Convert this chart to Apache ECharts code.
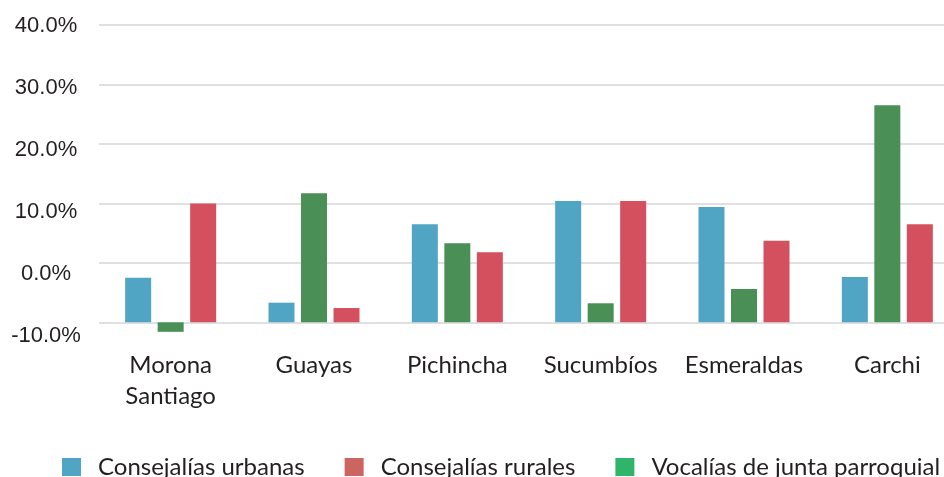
<!DOCTYPE html>
<html>
<head>
<meta charset="utf-8">
<script src="https://cdn.jsdelivr.net/npm/echarts@6/dist/echarts.min.js"></script>
<style>html,body{margin:0;padding:0;background:#fff}#c{width:944px;height:477px}</style>
</head>
<body>
<div id="c"></div>
<script>
// Data (percent)
var categories = ['Morona\nSantiago', 'Guayas', 'Pichincha', 'Sucumbíos', 'Esmeraldas', 'Carchi'];
var urbanas   = [-2.5, -6.7, 6.5, 10.4, 9.4, -2.4];
var vocalias  = [-11.6, 11.7, 3.3, -6.8, -4.4, 26.5];
var rurales   = [10.0, -7.6, 1.8, 10.4, 3.7, 6.5];
var yTicks = [-10, 0, 10, 20, 30, 40];
var seriesNames = ['Consejalías urbanas', 'Consejalías rurales', 'Vocalías de junta parroquial'];

// bars in the picture rise from the bottom line (-10%)
var BASE = yTicks[0];
function shift(arr){ return arr.map(function(v){ return +(v - BASE).toFixed(2); }); }

var catFont = 'Lato, "Open Sans", sans-serif';
var chart = echarts.init(document.getElementById('c'), null, {renderer:'canvas'});
var barCommon = {type:'bar', barWidth:26, barGap:'25%', clip:false, xAxisIndex:0, yAxisIndex:0};
chart.setOption({
  animation:false,
  grid:[
    {left:99, width:860, top:25, bottom:154.7, containLabel:false, outerBoundsMode:'none'},
    {left:99, width:860, top:25.8, bottom:141.5, containLabel:false, outerBoundsMode:'none'}
  ],
  xAxis:[
    {type:'category', gridIndex:0, data:categories,
     axisLine:{show:false}, axisTick:{show:false},
     axisLabel:{interval:0, margin:28, fontSize:24, lineHeight:30.7, color:'#231f20', fontFamily:catFont}},
    {type:'category', gridIndex:1, data:categories, show:false}
  ],
  yAxis:[
    {type:'value', gridIndex:0, min:0, max:yTicks[yTicks.length-1]-BASE, interval:10,
     axisLabel:{show:false}, axisLine:{show:false}, axisTick:{show:false},
     splitLine:{show:true, lineStyle:{color:'#d6d6d6', width:1.6}}},
    {type:'value', gridIndex:1, min:yTicks[0], max:yTicks[yTicks.length-1], interval:10,
     axisLine:{show:false}, axisTick:{show:false}, splitLine:{show:false},
     axisLabel:{align:'center', margin:53, fontSize:22, color:'#231f20', fontFamily:'"Liberation Sans", Arial, sans-serif',
       formatter:function(v){ return v.toFixed(1) + '%'; }}}
  ],
  legend:{
    left:62, top:455, width:1200, itemWidth:19, itemHeight:18, itemGap:40, icon:'rect', padding:0,
    textStyle:{fontSize:24, lineHeight:18, color:'#231f20', fontFamily:catFont, padding:[0,0,0,12]},
    data:[
      {name:seriesNames[0], itemStyle:{color:'#4fa5c3'}},
      {name:seriesNames[1], itemStyle:{color:'#cc6560'}},
      {name:seriesNames[2], itemStyle:{color:'#2fb56a'}}
    ]
  },
  series:[
    Object.assign({name:seriesNames[0], data:shift(urbanas), itemStyle:{color:'#50a5c4'}}, barCommon),
    Object.assign({name:seriesNames[2], data:shift(vocalias), itemStyle:{color:'#4a8f55'}}, barCommon),
    Object.assign({name:seriesNames[1], data:shift(rurales), itemStyle:{color:'#d4505e'}}, barCommon)
  ]
});
</script>
</body>
</html>
